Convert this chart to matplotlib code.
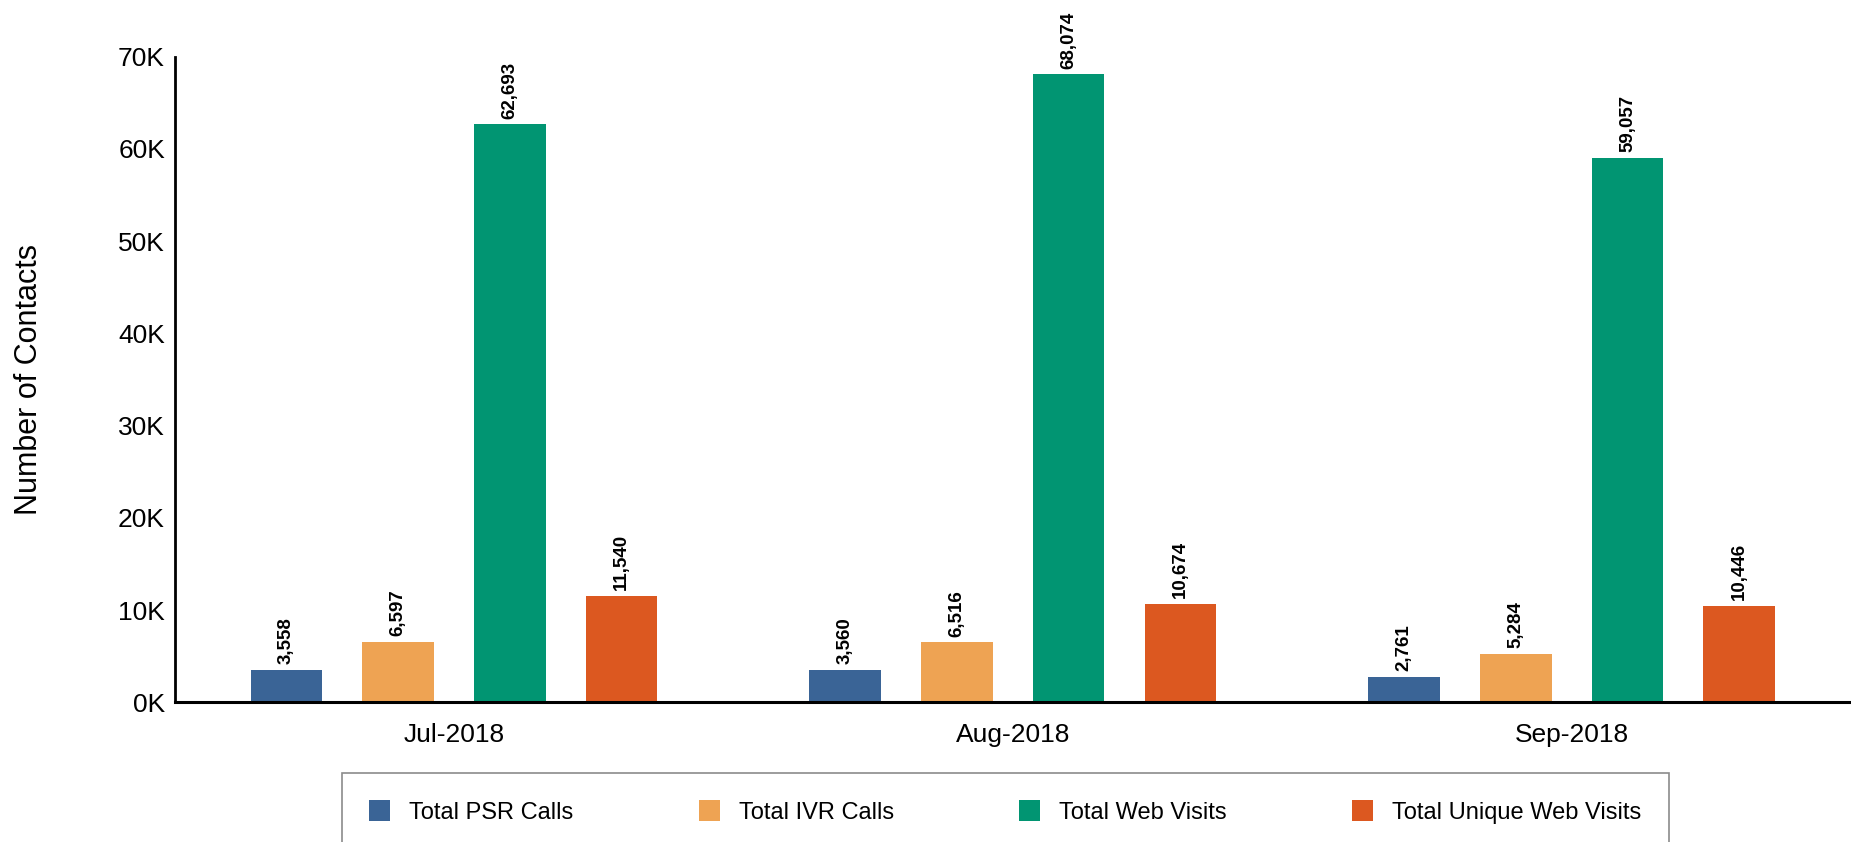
import matplotlib
matplotlib.use("Agg")
import matplotlib.pyplot as plt
import numpy as np
from matplotlib.ticker import FuncFormatter, MultipleLocator

plt.rcParams['font.family'] = ['Liberation Sans', 'DejaVu Sans']

months = ["Jul-2018", "Aug-2018", "Sep-2018"]
series_names = ["Total PSR Calls", "Total IVR Calls", "Total Web Visits", "Total Unique Web Visits"]
psr_calls = [3558, 3560, 2761]
ivr_calls = [6597, 6516, 5284]
web_visits = [62693, 68074, 59057]
unique_web_visits = [11540, 10674, 10446]
colors = ["#3A6496", "#EEA353", "#019572", "#DC5820"]

series = [psr_calls, ivr_calls, web_visits, unique_web_visits]

fig = plt.figure(figsize=(18.51, 8.42), dpi=100)
ax = fig.add_axes([174.7/1851, 139.6/842, 1 - 174.7/1851, (702.4-56.7)/842])

x = np.arange(len(months))
width = 0.128
offsets = [-0.3, -0.1, 0.1, 0.3]
for vals, name, col, off in zip(series, series_names, colors, offsets):
    bars = ax.bar(x + off, vals, width, color=col, label=name, zorder=2)
    for b, v in zip(bars, vals):
        ax.annotate(f"{v:,}", (b.get_x() + b.get_width()/2, b.get_height()),
                    xytext=(0, 4), textcoords="offset points", rotation=90,
                    ha="center", va="bottom", fontsize=13.5, fontweight="bold")

ax.set_xlim(-0.5, 2.5)
ax.set_ylim(0, 70000)
ax.yaxis.set_major_locator(MultipleLocator(10000))
ax.yaxis.set_major_formatter(FuncFormatter(lambda v, p: f"{v/1000:.0f}K"))
ax.set_xticks(x)
ax.set_xticklabels(months)
ax.tick_params(axis="both", length=0, labelsize=19)
ax.tick_params(axis="y", pad=7)
ax.tick_params(axis="x", pad=15)
ax.spines["top"].set_visible(False)
ax.spines["right"].set_visible(False)
ax.spines["left"].set_linewidth(2)
ax.spines["bottom"].set_linewidth(2.2)
ax.set_ylabel("Number of Contacts", fontsize=22, labelpad=53)

leg = fig.legend(loc="upper left", bbox_to_anchor=(342/1851, 1 - 773/842),
                 ncol=4, fontsize=17, frameon=True, fancybox=False,
                 borderpad=1.15, handlelength=0.9, handleheight=1.0, handletextpad=0.8,
                 columnspacing=5.3, borderaxespad=0)
leg.get_frame().set_edgecolor("#6e6e6e")
leg.get_frame().set_linewidth(1.2)

fig.savefig("out.png", dpi=100)
